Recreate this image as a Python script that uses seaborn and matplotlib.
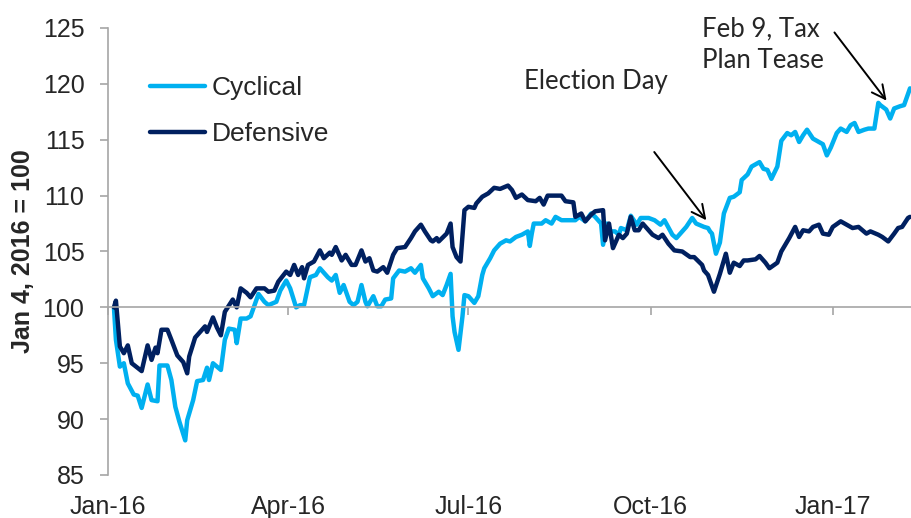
import matplotlib
matplotlib.use("Agg")
import matplotlib.pyplot as plt
import matplotlib.dates as mdates
import seaborn as sns
import pandas as pd

# ---------------- data ----------------
cyc_dates = [
    "2016-01-04", "2016-01-05", "2016-01-07", "2016-01-09", "2016-01-11", "2016-01-14", "2016-01-16",
    "2016-01-18", "2016-01-21", "2016-01-23", "2016-01-26", "2016-01-27", "2016-01-31", "2016-02-02",
    "2016-02-04", "2016-02-06", "2016-02-09", "2016-02-10", "2016-02-13", "2016-02-15", "2016-02-18",
    "2016-02-20", "2016-02-21", "2016-02-23", "2016-02-25", "2016-02-27", "2016-02-29", "2016-03-02",
    "2016-03-05", "2016-03-06", "2016-03-08", "2016-03-11", "2016-03-13", "2016-03-16", "2016-03-17",
    "2016-03-20", "2016-03-22", "2016-03-26", "2016-03-28", "2016-03-31", "2016-04-02", "2016-04-05",
    "2016-04-07", "2016-04-09", "2016-04-12", "2016-04-15", "2016-04-17", "2016-04-21", "2016-04-23",
    "2016-04-25", "2016-04-27", "2016-04-29", "2016-05-02", "2016-05-04", "2016-05-06", "2016-05-08",
    "2016-05-10", "2016-05-11", "2016-05-14", "2016-05-16", "2016-05-18", "2016-05-20", "2016-05-23",
    "2016-05-24", "2016-05-27", "2016-05-30", "2016-06-02", "2016-06-04", "2016-06-07", "2016-06-08",
    "2016-06-11", "2016-06-13", "2016-06-16", "2016-06-18", "2016-06-20", "2016-06-22", "2016-06-23",
    "2016-06-24", "2016-06-26", "2016-06-28", "2016-06-29", "2016-07-01", "2016-07-04", "2016-07-06",
    "2016-07-08", "2016-07-09", "2016-07-12", "2016-07-14", "2016-07-17", "2016-07-20", "2016-07-22",
    "2016-07-25", "2016-07-28", "2016-07-31", "2016-08-01", "2016-08-02", "2016-08-03", "2016-08-07",
    "2016-08-09", "2016-08-12", "2016-08-14", "2016-08-17", "2016-08-20", "2016-08-24", "2016-08-26",
    "2016-08-29", "2016-09-01", "2016-09-03", "2016-09-06", "2016-09-07", "2016-09-09", "2016-09-10",
    "2016-09-13", "2016-09-15", "2016-09-16", "2016-09-19", "2016-09-21", "2016-09-24", "2016-09-26",
    "2016-09-30", "2016-10-03", "2016-10-06", "2016-10-08", "2016-10-12", "2016-10-14", "2016-10-17",
    "2016-10-19", "2016-10-22", "2016-10-24", "2016-10-28", "2016-10-30", "2016-10-31", "2016-11-01",
    "2016-11-03", "2016-11-05", "2016-11-07", "2016-11-10", "2016-11-12", "2016-11-15", "2016-11-16",
    "2016-11-19", "2016-11-21", "2016-11-25", "2016-11-27", "2016-11-29", "2016-12-01", "2016-12-04",
    "2016-12-06", "2016-12-09", "2016-12-11", "2016-12-13", "2016-12-15", "2016-12-17", "2016-12-19",
    "2016-12-22", "2016-12-24", "2016-12-27", "2016-12-29", "2016-12-31", "2017-01-03", "2017-01-05",
    "2017-01-08", "2017-01-10", "2017-01-12", "2017-01-14", "2017-01-17", "2017-01-19", "2017-01-22",
    "2017-01-24", "2017-01-25", "2017-01-28", "2017-01-30", "2017-02-01", "2017-02-04", "2017-02-06",
    "2017-02-08", "2017-02-09",
]
cyc_values = [
    100.0, 97.1, 94.7, 95.0, 93.2, 92.2, 92.1,
    91.0, 93.1, 91.7, 91.6, 94.8, 94.8, 93.5,
    91.1, 89.8, 88.1, 89.9, 91.7, 93.4, 93.5,
    94.6, 93.5, 95.0, 94.7, 94.4, 97.1, 98.1,
    98.0, 96.8, 99.0, 99.0, 99.2, 100.7, 101.2,
    100.5, 100.2, 100.5, 101.5, 102.4, 101.7, 100.0,
    100.2, 100.2, 102.7, 102.9, 103.5, 102.7, 102.4,
    102.9, 101.3, 102.0, 100.5, 100.2, 100.5, 102.0,
    100.5, 100.1, 101.0, 100.1, 100.1, 100.7, 100.8,
    102.6, 103.3, 103.2, 103.5, 103.1, 103.8, 102.6,
    101.7, 101.0, 101.4, 101.1, 102.0, 103.0, 99.2,
    97.8, 96.2, 99.2, 101.1, 101.0, 100.4, 101.0,
    102.9, 103.5, 104.4, 105.1, 105.7, 106.0, 105.9,
    106.3, 106.5, 106.8, 105.5, 106.6, 107.5, 107.5,
    107.8, 107.5, 108.1, 107.8, 107.8, 107.8, 108.1,
    107.7, 108.4, 108.1, 107.5, 105.6, 107.5, 106.8,
    106.8, 106.5, 107.1, 106.9, 108.2, 107.4, 108.0,
    108.0, 107.8, 107.4, 107.8, 106.5, 106.2, 106.8,
    107.2, 108.0, 107.5, 107.2, 107.1, 106.8, 106.6,
    104.8, 105.8, 108.4, 109.8, 109.9, 110.3, 111.4,
    111.9, 112.6, 113.0, 112.4, 112.3, 111.5, 112.6,
    114.9, 115.6, 115.4, 115.7, 114.8, 115.4, 115.9,
    115.1, 114.9, 114.6, 113.6, 114.3, 115.6, 116.0,
    115.7, 116.3, 116.5, 115.7, 115.9, 116.0, 116.0,
    118.3, 118.1, 117.7, 116.9, 117.8, 118.0, 118.1,
    119.1, 119.6,
]

def_dates = [
    "2016-01-04", "2016-01-05", "2016-01-07", "2016-01-09", "2016-01-11", "2016-01-13", "2016-01-18",
    "2016-01-21", "2016-01-23", "2016-01-25", "2016-01-26", "2016-01-28", "2016-01-31", "2016-02-02",
    "2016-02-05", "2016-02-08", "2016-02-10", "2016-02-11", "2016-02-14", "2016-02-17", "2016-02-19",
    "2016-02-20", "2016-02-23", "2016-02-25", "2016-02-27", "2016-02-29", "2016-03-04", "2016-03-06",
    "2016-03-08", "2016-03-11", "2016-03-13", "2016-03-16", "2016-03-20", "2016-03-22", "2016-03-25",
    "2016-03-27", "2016-03-31", "2016-04-02", "2016-04-04", "2016-04-06", "2016-04-08", "2016-04-09",
    "2016-04-11", "2016-04-14", "2016-04-17", "2016-04-19", "2016-04-22", "2016-04-23", "2016-04-25",
    "2016-04-28", "2016-04-30", "2016-05-03", "2016-05-05", "2016-05-08", "2016-05-10", "2016-05-12",
    "2016-05-14", "2016-05-16", "2016-05-19", "2016-05-21", "2016-05-24", "2016-05-26", "2016-05-30",
    "2016-06-02", "2016-06-04", "2016-06-07", "2016-06-09", "2016-06-12", "2016-06-13", "2016-06-15",
    "2016-06-16", "2016-06-20", "2016-06-22", "2016-06-23", "2016-06-25", "2016-06-27", "2016-06-29",
    "2016-07-01", "2016-07-04", "2016-07-05", "2016-07-08", "2016-07-11", "2016-07-14", "2016-07-17",
    "2016-07-21", "2016-07-23", "2016-07-25", "2016-07-28", "2016-07-31", "2016-08-04", "2016-08-06",
    "2016-08-08", "2016-08-10", "2016-08-13", "2016-08-17", "2016-08-19", "2016-08-23", "2016-08-24",
    "2016-08-27", "2016-08-29", "2016-09-01", "2016-09-03", "2016-09-07", "2016-09-08", "2016-09-10",
    "2016-09-12", "2016-09-15", "2016-09-17", "2016-09-19", "2016-09-21", "2016-09-23", "2016-09-25",
    "2016-09-27", "2016-09-30", "2016-10-02", "2016-10-05", "2016-10-07", "2016-10-10", "2016-10-13",
    "2016-10-17", "2016-10-21", "2016-10-23", "2016-10-27", "2016-10-28", "2016-10-30", "2016-10-31",
    "2016-11-02", "2016-11-05", "2016-11-08", "2016-11-10", "2016-11-12", "2016-11-15", "2016-11-17",
    "2016-11-19", "2016-11-23", "2016-11-25", "2016-11-28", "2016-11-30", "2016-12-04", "2016-12-06",
    "2016-12-09", "2016-12-10", "2016-12-13", "2016-12-15", "2016-12-17", "2016-12-20", "2016-12-22",
    "2016-12-25", "2016-12-27", "2016-12-30", "2017-01-01", "2017-01-05", "2017-01-08", "2017-01-11",
    "2017-01-14", "2017-01-18", "2017-01-20", "2017-01-24", "2017-01-26", "2017-01-29", "2017-02-01",
    "2017-02-03", "2017-02-05", "2017-02-08", "2017-02-09",
]
def_values = [
    100.0, 100.6, 96.5, 95.9, 96.6, 95.0, 94.3,
    96.6, 95.3, 96.4, 95.9, 98.0, 98.0, 97.1,
    95.7, 95.1, 94.1, 95.6, 97.3, 97.9, 98.3,
    97.8, 99.1, 98.2, 97.5, 99.6, 100.7, 100.0,
    101.7, 101.3, 100.9, 101.7, 101.7, 101.4, 101.5,
    102.3, 103.2, 102.9, 103.8, 102.9, 103.6, 102.6,
    103.8, 104.1, 105.1, 104.4, 104.9, 104.7, 105.4,
    104.2, 104.7, 103.8, 103.8, 105.1, 104.1, 104.4,
    103.3, 103.2, 103.6, 103.1, 104.7, 105.3, 105.4,
    106.2, 106.8, 107.4, 106.8, 106.0, 105.9, 106.2,
    105.9, 106.6, 107.5, 105.4, 104.5, 104.1, 108.7,
    109.0, 108.9, 109.3, 109.9, 110.2, 110.7, 110.6,
    110.9, 110.5, 109.8, 110.1, 109.6, 109.5, 109.8,
    109.2, 110.0, 110.0, 110.0, 109.5, 109.4, 108.1,
    108.4, 107.7, 108.3, 108.6, 108.7, 106.0, 107.5,
    105.3, 106.5, 106.2, 106.6, 108.1, 106.9, 106.9,
    107.5, 106.9, 106.5, 106.2, 106.5, 105.7, 105.1,
    105.0, 104.5, 104.5, 103.8, 103.3, 102.9, 102.4,
    101.4, 103.0, 104.8, 103.1, 104.0, 103.7, 104.2,
    104.2, 104.3, 104.6, 104.0, 103.5, 104.0, 105.0,
    105.9, 106.2, 107.2, 106.3, 106.9, 106.8, 107.2,
    107.4, 106.6, 106.5, 107.2, 107.7, 107.4, 107.1,
    107.2, 106.6, 106.8, 106.5, 106.3, 105.9, 106.6,
    107.1, 107.2, 108.0, 108.1,
]

series_names = ["Cyclical", "Defensive"]
series_colors = ["#00B0F0", "#002060"]
y_ticks = [85, 90, 95, 100, 105, 110, 115, 120, 125]
x_ticks = ["2016-01-01", "2016-04-01", "2016-07-01", "2016-10-01", "2017-01-01"]
y_label = "Jan 4, 2016 = 100"

# ---------------- build table ----------------
df = pd.concat([
    pd.DataFrame({"date": pd.to_datetime(cyc_dates), "value": cyc_values, "series": series_names[0]}),
    pd.DataFrame({"date": pd.to_datetime(def_dates), "value": def_values, "series": series_names[1]}),
], ignore_index=True)

sns.set_style("white")
plt.rcParams["font.family"] = ["Liberation Sans", "DejaVu Sans"]

fig = plt.figure(figsize=(9.11, 5.18), dpi=100)
ax = fig.add_axes([108 / 911, 43 / 518, 803 / 911, 447 / 518])

sns.lineplot(data=df, x="date", y="value", hue="series", hue_order=series_names,
             palette=dict(zip(series_names, series_colors)), linewidth=3.2,
             legend=False, ax=ax, estimator=None, sort=True)

ax.set_ylim(85, 125)
ax.set_xlim(pd.Timestamp("2016-01-01"), pd.Timestamp("2017-02-09 12:00"))
ax.set_yticks(y_ticks)
ax.set_xticks(pd.to_datetime(x_ticks))
ax.xaxis.set_major_formatter(mdates.DateFormatter("%b-%y"))

grey = "#A6A6A6"
for s in ["top", "right"]:
    ax.spines[s].set_visible(False)
ax.spines["left"].set_color(grey)
ax.spines["left"].set_linewidth(1.2)
ax.spines["bottom"].set_color(grey)
ax.spines["bottom"].set_linewidth(1.2)
ax.spines["bottom"].set_position(("data", 100))

ax.tick_params(axis="y", direction="out", length=6, width=1.2, color=grey,
               labelsize=18, pad=11, left=True)
ax.tick_params(axis="x", direction="out", length=6, width=1.2, color=grey,
               labelsize=18, pad=129, bottom=True)

ax.set_xlabel("")
ax.set_ylabel(y_label, fontsize=18, fontweight="bold")
ax.yaxis.set_label_coords(-0.091, 0.5)

# legend
handles = [plt.Line2D([], [], color=c, lw=3.2) for c in series_colors]
ax.legend(handles, series_names, loc="upper left", bbox_to_anchor=(0.052, 0.893),
          frameon=False, fontsize=19, handlelength=2.1, handletextpad=0.25,
          labelspacing=0.85, borderpad=0, borderaxespad=0)

# annotations
ann_font = ["Lato", "DejaVu Sans"]
ax.annotate("", xy=(pd.Timestamp("2016-10-30"), 107.6), xytext=(pd.Timestamp("2016-10-02"), 114.1),
            arrowprops=dict(arrowstyle="->", color="black", lw=1.4, mutation_scale=24))
ax.text(pd.Timestamp("2016-07-29"), 120.2, "Election Day", fontsize=18.5,
        family=ann_font, ha="left", va="center")
ax.annotate("", xy=(pd.Timestamp("2017-01-29"), 118.3), xytext=(pd.Timestamp("2017-01-01"), 124.8),
            arrowprops=dict(arrowstyle="->", color="black", lw=1.4, mutation_scale=24),
            annotation_clip=False)
ax.text(pd.Timestamp("2016-10-27"), 123.5, "Feb 9, Tax\nPlan Tease", fontsize=18.5,
        family=ann_font, ha="left", va="center", linespacing=1.35, clip_on=False)

fig.savefig("out.png", dpi=100)
